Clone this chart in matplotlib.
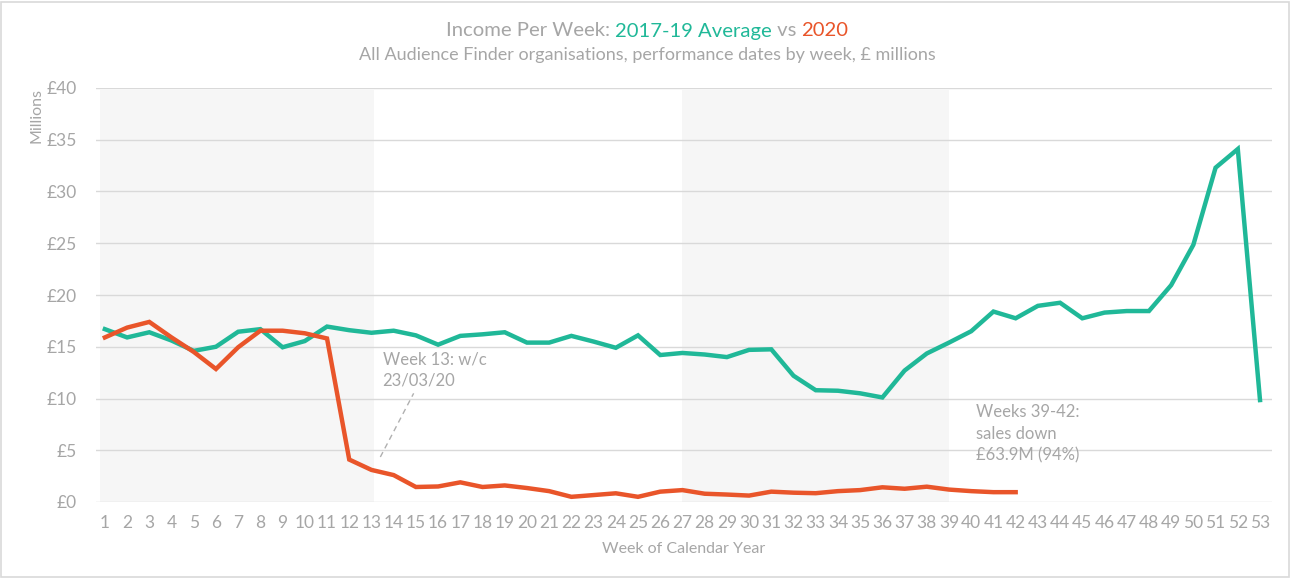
import matplotlib
matplotlib.use("Agg")
import matplotlib.pyplot as plt
from matplotlib.patches import Rectangle

weeks = list(range(1, 54))
avg_2017_19 = [16.7, 15.9, 16.4, 15.6, 14.6, 15.0, 16.45, 16.7, 14.95, 15.55,
               16.95, 16.6, 16.35, 16.55, 16.1, 15.2, 16.05, 16.2, 16.4, 15.4,
               15.4, 16.05, 15.5, 14.9, 16.1, 14.2, 14.4, 14.25, 14.0, 14.7,
               14.75, 12.2, 10.8, 10.75, 10.5, 10.1, 12.7, 14.35, 15.4, 16.5,
               18.4, 17.75, 18.95, 19.25, 17.75, 18.3, 18.45, 18.45, 20.95, 24.85,
               32.3, 34.1, 9.85]
weeks_2020 = list(range(1, 43))
inc_2020 = [15.9, 16.85, 17.4, 15.9, 14.5, 12.85, 14.95, 16.55, 16.55, 16.3,
            15.8, 4.1, 3.1, 2.6, 1.45, 1.5, 1.9, 1.45, 1.6, 1.35,
            1.05, 0.5, 0.67, 0.84, 0.5, 1.0, 1.15, 0.8, 0.72, 0.62,
            1.0, 0.9, 0.85, 1.05, 1.15, 1.42, 1.28, 1.48, 1.2, 1.05,
            0.95, 0.95]
yticks = [0, 5, 10, 15, 20, 25, 30, 35, 40]
ytick_labels = ["£0", "£5", "£10", "£15", "£20", "£25", "£30", "£35", "£40"]
bands = [(0.8, 13.1), (27.0, 39.0)]

TEAL = "#20B898"
ORANGE = "#E9552A"
GREY = "#A6A6A6"
FONT = ["Lato", "DejaVu Sans"]
plt.rcParams['font.family'] = FONT

fig = plt.figure(figsize=(12.9, 5.78), dpi=100)
fig.patches.append(Rectangle((0.001, 0.001), 0.998, 0.996, transform=fig.transFigure,
                             fill=False, edgecolor="#D9D9D9", linewidth=1.2))
ax = fig.add_axes([96 / 1290, 76 / 578, 1176 / 1290, 414 / 578])

for x0, x1 in bands:
    ax.axvspan(x0, x1, ymin=0, ymax=0.995, color="#F6F6F6", zorder=0, lw=0)

ax.set_ylim(0, 40)
ax.set_xlim(0.6, 53.54)
ax.set_yticks(yticks)
ax.set_yticklabels(ytick_labels)
ax.set_xticks(weeks)
ax.set_xticklabels([str(w) for w in weeks])
ax.grid(axis="y", color="#D9D9D9", linewidth=1.0, zorder=1)
ax.set_axisbelow(True)
for s in ax.spines.values():
    s.set_visible(False)
ax.tick_params(axis="both", length=0, colors=GREY, labelsize=12.5)
ax.tick_params(axis="y", pad=14)
ax.tick_params(axis="x", pad=9)

ax.plot(weeks, avg_2017_19, color=TEAL, lw=3.2, zorder=3, solid_joinstyle="miter")
ax.plot(weeks_2020, inc_2020, color=ORANGE, lw=3.2, zorder=4, solid_joinstyle="miter")

ax.set_xlabel("Week of Calendar Year", color=GREY, fontsize=11.5, labelpad=8)
fig.text(37 / 1290, 1 - 115 / 578, "Millions", rotation=90, color=GREY,
         fontsize=11.5, ha="center", va="center")

# annotations
ax.text(13.5, 14.5, "Week 13: w/c\n23/03/20", color=GREY, fontsize=12,
        ha="left", va="top", linespacing=1.35)
ax.plot([13.4, 14.9], [4.35, 10.5], color="#B0B0B0", lw=1.0, ls=(0, (4, 3)), zorder=2)
ax.text(40.2, 9.5, "Weeks 39-42:\nsales down\n£63.9M (94%)", color=GREY, fontsize=12,
        ha="left", va="top", linespacing=1.45)

# title
parts = [("Income Per Week: ", GREY), ("2017-19 Average", TEAL), (" vs ", GREY), ("2020", ORANGE)]
renderer = fig.canvas.get_renderer()
texts = []
widths = []
for s, c in parts:
    t = fig.text(0, 1 - 31 / 578, s, color=c, fontsize=14.6, ha="left", va="center")
    bb = t.get_window_extent(renderer=renderer)
    texts.append(t)
    widths.append(bb.width)
total = sum(widths)
x = (647 - total / 2)
for t, w in zip(texts, widths):
    t.set_x(x / 1290)
    x += w
fig.text(647 / 1290, 1 - 55 / 578,
         "All Audience Finder organisations, performance dates by week, £ millions",
         color=GREY, fontsize=13, ha="center", va="center")

fig.savefig("out.png", dpi=100)
